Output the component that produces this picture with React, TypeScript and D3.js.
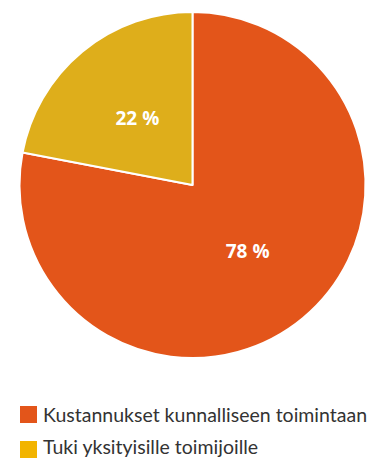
import React from "react";
import * as d3 from "d3";

const categories = ["Kustannukset kunnalliseen toimintaan", "Tuki yksityisille toimijoille"];
const values = [78, 22];
const labels = ["78 %", "22 %"];
const pieColors = ["#E3551A", "#DEAE1B"];
const legendColors = ["#E3551A", "#F2B400"];

export default function App() {
  const W = 371, H = 458;
  const cx = 192.5, cy = 185, R = 173;
  const pie = d3.pie<number>().sort(null).value((d) => d)(values);
  const arc = d3.arc<d3.PieArcDatum<number>>().innerRadius(0).outerRadius(R);
  const labelArc = d3.arc<d3.PieArcDatum<number>>().innerRadius(R * 0.5).outerRadius(R * 0.5);
  return (
    <svg width={W} height={H} style={{ position: "absolute", left: 0, top: 0 }}>
      <g transform={`translate(${cx},${cy})`}>
        {pie.map((p, i) => (
          <path key={i} d={arc(p) || ""} fill={pieColors[i]} stroke="#fff" strokeWidth={2} strokeLinejoin="round" />
        ))}
        {pie.map((p, i) => {
          const [x, y] = labelArc.centroid(p);
          return (
            <text key={i} x={x} y={y} dy="0.35em" textAnchor="middle" fill="#fff"
              fontFamily="'Open Sans', sans-serif" fontWeight={700} fontSize={19}>
              {labels[i]}
            </text>
          );
        })}
      </g>
      {categories.map((c, i) => (
        <g key={i} transform={`translate(20,${406 + i * 35})`}>
          <rect x={0} y={0} width={17} height={17} fill={legendColors[i]} />
          <text x={23} y={i === 0 ? 16 : 12.5} fill="#333" fontFamily="Lato, sans-serif" fontSize={19.5}>
            {c}
          </text>
        </g>
      ))}
    </svg>
  );
}
